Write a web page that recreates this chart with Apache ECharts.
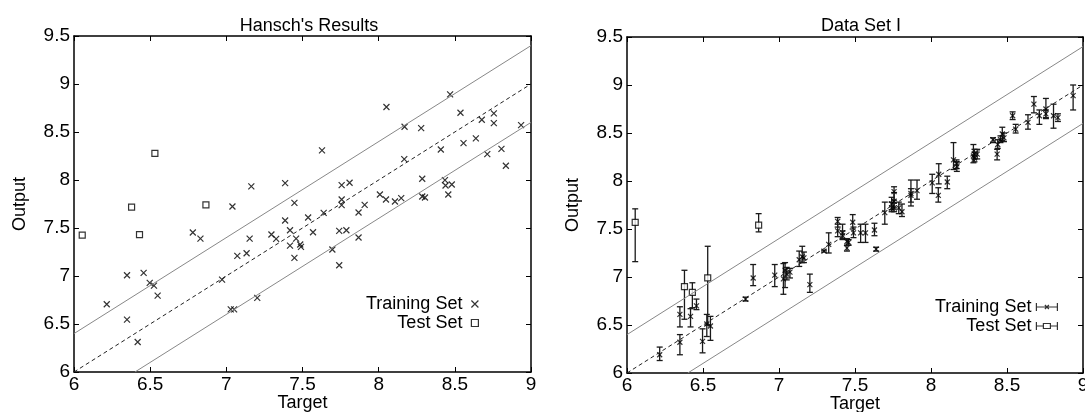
<!DOCTYPE html>
<html>
<head>
<meta charset="utf-8">
<script src="https://cdn.jsdelivr.net/npm/echarts@6/dist/echarts.min.js"></script>
<style>
  html, body { margin: 0; padding: 0; background: #fff; }
  #chart { width: 1085px; height: 412px; }
</style>
</head>
<body>
<div id="chart"></div>
<script>
// targets of the training compounds (same in both panels)
const trainTarget = [6.215, 6.348, 6.348, 6.418, 6.457, 6.497, 6.525, 6.549, 6.780, 6.830,
  6.972, 7.029, 7.040, 7.051, 7.072, 7.133, 7.153, 7.164, 7.203, 7.296,
  7.327, 7.386, 7.386, 7.418, 7.418, 7.447, 7.447, 7.458, 7.485, 7.490,
  7.537, 7.569, 7.628, 7.639, 7.696, 7.741, 7.741, 7.757, 7.757, 7.757,
  7.788, 7.809, 7.868, 7.868, 7.908, 8.008, 8.048, 8.051, 8.107, 8.148,
  8.168, 8.170, 8.279, 8.286, 8.286, 8.304, 8.408, 8.435, 8.439, 8.457,
  8.469, 8.480, 8.537, 8.557, 8.638, 8.677, 8.713, 8.756, 8.756, 8.806,
  8.835, 8.935]

// Hansch's results (left panel)
const hanschOutput = [6.706, 7.008, 6.546, 6.313, 7.032, 6.928, 6.900, 6.796, 7.453, 7.390,
  6.963, 6.653, 7.724, 6.653, 7.210, 7.237, 7.390, 7.933, 6.772, 7.432,
  7.387, 7.967, 7.578, 7.477, 7.317, 7.762, 7.189, 7.390, 7.328, 7.303,
  7.609, 7.456, 8.308, 7.658, 7.276, 7.470, 7.112, 7.946, 7.797, 7.738,
  7.477, 7.971, 7.661, 7.401, 7.741, 7.849, 7.797, 8.760, 7.776, 7.811,
  8.218, 8.555, 8.541, 8.013, 7.828, 7.818, 8.318, 7.999, 7.943, 7.849,
  8.892, 7.953, 8.701, 8.384, 8.433, 8.628, 8.270, 8.694, 8.593, 8.325,
  8.148, 8.572]

// Data Set I (right panel): output with error bar ends
const dsOutput = [6.19, 6.32, 6.61, 6.59, 6.70, 6.33, 6.51, 6.49, 6.77, 6.99,
  7.02, 6.98, 7.07, 7.03, 7.05, 7.18, 7.21, 7.20, 6.92, 7.27,
  7.34, 7.58, 7.48, 7.46, 7.43, 7.37, 7.30, 7.36, 7.57, 7.46,
  7.46, 7.46, 7.49, 7.29, 7.67, 7.72, 7.76, 7.89, 7.79, 7.72,
  7.72, 7.68, 7.87, 7.85, 7.90, 7.98, 7.85, 8.07, 7.99, 8.22,
  8.18, 8.15, 8.26, 8.24, 8.28, 8.28, 8.43, 8.28, 8.38, 8.43,
  8.49, 8.45, 8.68, 8.54, 8.61, 8.80, 8.68, 8.75, 8.70, 8.68,
  8.66, 8.89]
const dsLow = [6.13, 6.19, 6.48, 6.48, 6.66, 6.21, 6.38, 6.34, 6.75, 6.91,
  6.90, 6.82, 6.89, 6.97, 6.99, 7.11, 7.15, 7.15, 6.84, 7.26,
  7.25, 7.52, 7.42, 7.39, 7.40, 7.33, 7.27, 7.33, 7.50, 7.41,
  7.36, 7.36, 7.43, 7.27, 7.55, 7.68, 7.70, 7.80, 7.72, 7.68,
  7.66, 7.63, 7.74, 7.78, 7.81, 7.87, 7.78, 7.97, 7.92, 8.12,
  8.13, 8.10, 8.19, 8.20, 8.23, 8.23, 8.40, 8.22, 8.34, 8.40,
  8.42, 8.41, 8.64, 8.50, 8.54, 8.71, 8.59, 8.65, 8.66, 8.55,
  8.62, 8.74]
const dsHigh = [6.27, 6.40, 6.69, 6.67, 6.77, 6.46, 6.61, 6.59, 6.79, 7.13,
  7.13, 7.14, 7.15, 7.10, 7.09, 7.27, 7.32, 7.26, 7.03, 7.28,
  7.46, 7.62, 7.55, 7.55, 7.48, 7.40, 7.33, 7.39, 7.65, 7.52,
  7.55, 7.55, 7.56, 7.31, 7.78, 7.78, 7.83, 7.94, 7.88, 7.77,
  7.78, 7.76, 8.01, 7.92, 8.01, 8.07, 7.93, 8.18, 8.05, 8.40,
  8.22, 8.20, 8.38, 8.30, 8.33, 8.33, 8.45, 8.33, 8.43, 8.47,
  8.56, 8.50, 8.72, 8.59, 8.69, 8.88, 8.74, 8.86, 8.74, 8.80,
  8.70, 9.00]

// test compounds
const testTarget = [6.054, 6.378, 6.430, 6.531, 6.866]
const testHansch = [7.425, 7.717, 7.432, 8.277, 7.741]
const testOutput = [7.57, 6.90, 6.84, 6.99, 7.54]
const testLow = [7.16, 6.56, 6.68, 6.50, 7.47]
const testHigh = [7.71, 7.07, 6.94, 7.32, 7.66]

// reference lines: ideal fit and +/- 0.4 band
const fitLine = [[6, 6], [9, 9]]
const upperLine = [[6, 6.4], [9, 9.4]]
const lowerLine = [[6.4, 6], [9, 8.6]]

const font = 'Liberation Sans'
const crossPath = 'path://M0,0L10,10M0,10L10,0'

function bottomAxis(gridIndex) {
  return {
    type: 'value', gridIndex: gridIndex, min: 6, max: 9, interval: 0.5,
    name: 'Target', nameLocation: 'middle', nameGap: 22, nameMoveOverlap: false,
    nameTextStyle: { fontFamily: font, fontSize: 18, color: '#000' },
    axisLine: { show: true, onZero: false, lineStyle: { color: '#000', width: 1.5 } },
    axisTick: { show: true, inside: true, length: 5, lineStyle: { color: '#000' } },
    axisLabel: { margin: 3, fontFamily: font, fontSize: 19, color: '#000' },
    splitLine: { show: false }
  }
}
function topAxis(gridIndex) {
  return {
    type: 'value', gridIndex: gridIndex, position: 'top', min: 6, max: 9, interval: 0.5,
    axisLine: { show: true, onZero: false, lineStyle: { color: '#000', width: 1.5 } },
    axisTick: { show: true, inside: true, length: 5, lineStyle: { color: '#000' } },
    axisLabel: { show: false },
    splitLine: { show: false }
  }
}
function leftAxis(gridIndex) {
  return {
    type: 'value', gridIndex: gridIndex, min: 6, max: 9.5, interval: 0.5,
    name: 'Output', nameLocation: 'middle', nameGap: 45, nameRotate: 90,
    nameTextStyle: { fontFamily: font, fontSize: 18, color: '#000' },
    axisLine: { show: true, onZero: false, lineStyle: { color: '#000', width: 1.5 } },
    axisTick: { show: true, inside: true, length: 5, lineStyle: { color: '#000' } },
    axisLabel: { margin: 4, fontFamily: font, fontSize: 19, color: '#000' },
    splitLine: { show: false }
  }
}
function rightAxis(gridIndex) {
  return {
    type: 'value', gridIndex: gridIndex, position: 'right', min: 6, max: 9.5, interval: 0.5,
    axisLine: { show: true, onZero: false, lineStyle: { color: '#000', width: 1.5 } },
    axisTick: { show: true, inside: true, length: 5, lineStyle: { color: '#000' } },
    axisLabel: { show: false },
    splitLine: { show: false }
  }
}

function lineSeries(data, axisIndex, color, type) {
  return {
    type: 'line', xAxisIndex: axisIndex, yAxisIndex: axisIndex, data: data,
    symbol: 'none', silent: true,
    lineStyle: { color: color, width: 1, type: type }
  }
}

function errorBars(axisIndex, xs, lo, hi) {
  return {
    type: 'custom', xAxisIndex: axisIndex, yAxisIndex: axisIndex, silent: true,
    data: xs.map((x, i) => [x, lo[i], hi[i]]),
    renderItem: function (params, api) {
      const top = api.coord([api.value(0), api.value(2)])
      const bot = api.coord([api.value(0), api.value(1)])
      const w = 3
      const st = { stroke: '#1a1a1a', lineWidth: 1.3 }
      return {
        type: 'group',
        children: [
          { type: 'line', shape: { x1: top[0], y1: top[1], x2: bot[0], y2: bot[1] }, style: st },
          { type: 'line', shape: { x1: top[0] - w, y1: top[1], x2: top[0] + w, y2: top[1] }, style: st },
          { type: 'line', shape: { x1: bot[0] - w, y1: bot[1], x2: bot[0] + w, y2: bot[1] }, style: st }
        ]
      }
    }
  }
}

const crossStyle = { color: 'transparent', borderColor: '#000', borderWidth: 1.2 }
const squareStyle = { color: '#fff', borderColor: '#000', borderWidth: 1.2 }

const option = {
  animation: false,
  backgroundColor: '#fff',
  title: [
    { text: "Hansch's Results", left: 304, top: 12, textAlign: 'center',
      textStyle: { fontFamily: font, fontSize: 18, fontWeight: 'normal', color: '#000' } },
    { text: 'Data Set I', left: 856, top: 12, textAlign: 'center',
      textStyle: { fontFamily: font, fontSize: 18, fontWeight: 'normal', color: '#000' } }
  ],
  legend: [
    {
      orient: 'vertical', align: 'right', right: 606, top: 295, itemGap: 1, padding: 0,
      itemWidth: 7, itemHeight: 7, selectedMode: false,
      textStyle: { fontFamily: font, fontSize: 18, color: '#000', padding: [0, 4, 0, 0] },
      data: [
        { name: 'Training Set', icon: crossPath, itemStyle: crossStyle },
        { name: 'Test Set', icon: 'rect', itemStyle: squareStyle }
      ]
    },
    {
      orient: 'vertical', align: 'right', right: 27, top: 298, itemGap: 1, padding: 0,
      itemWidth: 21, itemHeight: 8, selectedMode: false,
      textStyle: { fontFamily: font, fontSize: 18, color: '#000' },
      data: [
        { name: 'Training Set', icon: 'path://M0,0L0,8M0,4L21,4M21,0L21,8M8.5,2L12.5,6M12.5,2L8.5,6', itemStyle: crossStyle },
        { name: 'Test Set', icon: 'path://M0,0L0,8M0,4L7,4M14,4L21,4M21,0L21,8M7,1.5L14,1.5L14,6.5L7,6.5Z', itemStyle: crossStyle }
      ]
    }
  ],
  grid: [
    { left: 74, top: 36, width: 457, height: 336, outerBoundsMode: 'none' },
    { left: 627, top: 37, width: 456, height: 336, outerBoundsMode: 'none' }
  ],
  xAxis: [bottomAxis(0), topAxis(0), bottomAxis(1), topAxis(1)],
  yAxis: [leftAxis(0), rightAxis(0), leftAxis(1), rightAxis(1)],
  series: [
    {
      name: 'Training Set', type: 'scatter', xAxisIndex: 0, yAxisIndex: 0, silent: true,
      symbol: crossPath, symbolSize: 6, itemStyle: crossStyle,
      data: trainTarget.map((x, i) => [x, hanschOutput[i]])
    },
    {
      name: 'Test Set', type: 'scatter', xAxisIndex: 0, yAxisIndex: 0, silent: true,
      symbol: 'rect', symbolSize: 6, itemStyle: squareStyle,
      data: testTarget.map((x, i) => [x, testHansch[i]])
    },
    lineSeries(upperLine, 0, '#888', 'solid'),
    lineSeries(lowerLine, 0, '#888', 'solid'),
    lineSeries(fitLine, 0, '#222', [4, 3]),

    lineSeries(upperLine, 2, '#888', 'solid'),
    lineSeries(lowerLine, 2, '#888', 'solid'),
    lineSeries(fitLine, 2, '#222', [4, 3]),
    errorBars(2, trainTarget, dsLow, dsHigh),
    errorBars(2, testTarget, testLow, testHigh),
    {
      name: 'Training Set', type: 'scatter', xAxisIndex: 2, yAxisIndex: 2, silent: true,
      symbol: crossPath, symbolSize: 5, itemStyle: crossStyle,
      data: trainTarget.map((x, i) => [x, dsOutput[i]])
    },
    {
      name: 'Test Set', type: 'scatter', xAxisIndex: 2, yAxisIndex: 2, silent: true,
      symbol: 'rect', symbolSize: 6, itemStyle: squareStyle,
      data: testTarget.map((x, i) => [x, testOutput[i]])
    }
  ]
}

const chart = echarts.init(document.getElementById('chart'))
chart.setOption(option)
</script>
</body>
</html>
